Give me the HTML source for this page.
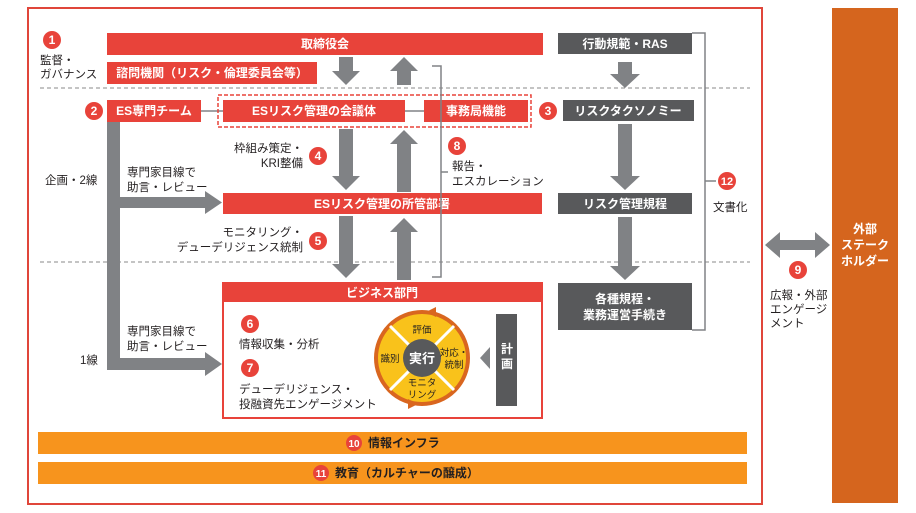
<!DOCTYPE html>
<html><head><meta charset="utf-8"><style>
html,body{margin:0;padding:0;background:#fff;}
svg{display:block;font-family:"Liberation Sans","Noto Sans CJK JP",sans-serif;}
.w{fill:#fff;font-weight:bold;font-size:12px;text-anchor:middle;}
.k{fill:#231f20;font-size:11.5px;}
.n{fill:#fff;font-weight:bold;font-size:12px;text-anchor:middle;}
.s{fill:#231f20;font-size:9.5px;text-anchor:middle;}
</style></head><body>
<svg width="916" height="513" viewBox="0 0 916 513" xmlns="http://www.w3.org/2000/svg">
<rect x="28" y="8" width="734" height="496" fill="#fff" stroke="#e0463a" stroke-width="2"/>
<rect x="832" y="8" width="66" height="495" fill="#d5651e"/>
<text x="865" y="233" class="w">外部</text>
<text x="865" y="249" class="w">ステーク</text>
<text x="865" y="265" class="w">ホルダー</text>
<line x1="40" y1="88" x2="750" y2="88" stroke="#888" stroke-dasharray="4,3" stroke-width="1"/>
<line x1="40" y1="262" x2="750" y2="262" stroke="#888" stroke-dasharray="4,3" stroke-width="1"/>
<rect x="107" y="33" width="436" height="22" fill="#e8433a"/>
<text x="325" y="48" class="w">取締役会</text>
<rect x="107" y="62" width="210" height="22" fill="#e8433a"/>
<text x="212" y="77" class="w">諮問機関（リスク・倫理委員会等）</text>
<rect x="107" y="100" width="94" height="22" fill="#e8433a"/>
<text x="154" y="115" class="w">ES専門チーム</text>
<line x1="201" y1="111" x2="223" y2="111" stroke="#808285" stroke-width="1.5"/>
<rect x="218" y="95" width="313" height="32" fill="none" stroke="#e8433a" stroke-width="1.5" stroke-dasharray="4,2"/>
<rect x="223" y="100" width="182" height="22" fill="#e8433a"/>
<text x="314" y="115" class="w">ESリスク管理の会議体</text>
<line x1="405" y1="111" x2="424" y2="111" stroke="#808285" stroke-width="1.5"/>
<rect x="424" y="100" width="104" height="22" fill="#e8433a"/>
<text x="476" y="115" class="w">事務局機能</text>
<rect x="223" y="193" width="319" height="21" fill="#e8433a"/>
<text x="382" y="208" class="w">ESリスク管理の所管部署</text>
<rect x="223" y="283" width="319" height="135" fill="#fff" stroke="#e8433a" stroke-width="2"/>
<rect x="223" y="283" width="319" height="19" fill="#e8433a"/>
<text x="382" y="297" class="w">ビジネス部門</text>
<rect x="558" y="33" width="134" height="21" fill="#58595b"/>
<text x="625" y="48" class="w">行動規範・RAS</text>
<rect x="563" y="100" width="131" height="21" fill="#58595b"/>
<text x="628" y="115" class="w">リスクタクソノミー</text>
<rect x="558" y="193" width="134" height="21" fill="#58595b"/>
<text x="625" y="208" class="w">リスク管理規程</text>
<rect x="558" y="283" width="134" height="47" fill="#58595b"/>
<text x="625" y="303" class="w">各種規程・</text>
<text x="625" y="319" class="w">業務運営手続き</text>
<g fill="#808285">
<polygon points="339,57 353,57 353,71 360,71 346,85 332,71 339,71"/>
<polygon points="397,85 411,85 411,71 418,71 404,57 390,71 397,71"/>
<polygon points="339,129 353,129 353,176 360,176 346,190 332,176 339,176"/>
<polygon points="397,192 411,192 411,144 418,144 404,130 390,144 397,144"/>
<polygon points="339,216 353,216 353,264 360,264 346,278 332,264 339,264"/>
<polygon points="397,280 411,280 411,232 418,232 404,218 390,232 397,232"/>
<polygon points="618,62 632,62 632,74 640,74 625,88 610,74 618,74"/>
<polygon points="618,124 632,124 632,176 640,176 625,190 610,176 618,176"/>
<polygon points="618,217 632,217 632,266 640,266 625,280 610,266 618,266"/>
<rect x="107" y="122" width="13" height="248"/>
<rect x="107" y="197" width="100" height="11"/>
<polygon points="205,191 222,202.5 205,214"/>
<rect x="107" y="358" width="100" height="12"/>
<polygon points="205,352 222,364 205,376"/>
<polygon points="765,245 780,232 780,240 815,240 815,232 830,245 815,258 815,250 780,250 780,258"/>
<polygon points="490,347 490,369 480,358"/>
</g>
<polyline points="432,66 441,66 441,277 432,277" fill="none" stroke="#808285" stroke-width="1.5"/>
<line x1="441" y1="172" x2="448" y2="172" stroke="#808285" stroke-width="1.5"/>
<polyline points="692,33 705,33 705,330 692,330" fill="none" stroke="#808285" stroke-width="1.5"/>
<line x1="705" y1="181" x2="716" y2="181" stroke="#808285" stroke-width="1.5"/>
<circle cx="422" cy="358" r="46" fill="#f9c21b" stroke="#d9661f" stroke-width="4"/>
<g stroke="#fff" stroke-width="3">
<line x1="390" y1="326" x2="454" y2="390"/>
<line x1="454" y1="326" x2="390" y2="390"/>
</g>
<polygon points="426,312 436,307 436,317" fill="#d9661f"/>
<polygon points="418,404 408,399 408,409" fill="#d9661f"/>
<circle cx="422" cy="358" r="19" fill="#58595b"/>
<text x="422" y="363" class="w" style="font-size:13px">実行</text>
<text x="422" y="333" class="s">評価</text>
<text x="390" y="362" class="s">識別</text>
<text x="454" y="356" class="s">対応・</text>
<text x="454" y="368" class="s">統制</text>
<text x="422" y="386" class="s">モニタ</text>
<text x="422" y="398" class="s">リング</text>
<rect x="496" y="314" width="21" height="92" fill="#58595b"/>
<text x="507" y="353" class="w">計</text>
<text x="507" y="368" class="w">画</text>
<rect x="38" y="432" width="709" height="22" fill="#f7941d"/>
<circle cx="354" cy="443" r="8" fill="#e8433a"/><text x="354" y="447" class="n" style="font-size:10px">10</text>
<text x="368" y="447" class="k" style="font-weight:bold;font-size:12px">情報インフラ</text>
<rect x="38" y="462" width="709" height="22" fill="#f7941d"/>
<circle cx="321" cy="473" r="8" fill="#e8433a"/><text x="321" y="477" class="n" style="font-size:10px">11</text>
<text x="335" y="477" class="k" style="font-weight:bold;font-size:12px">教育（カルチャーの醸成）</text>
<g fill="#e8433a">
<circle cx="52" cy="40" r="9"/><circle cx="94" cy="111" r="9"/><circle cx="548" cy="111" r="9"/>
<circle cx="318" cy="156" r="9"/><circle cx="318" cy="241" r="9"/><circle cx="457" cy="146" r="9"/>
<circle cx="250" cy="324" r="9"/><circle cx="250" cy="368" r="9"/><circle cx="727" cy="181" r="9"/>
<circle cx="798" cy="270" r="9"/>
</g>
<text x="52" y="44" class="n">1</text><text x="94" y="115" class="n">2</text><text x="548" y="115" class="n">3</text>
<text x="318" y="160" class="n">4</text><text x="318" y="245" class="n">5</text><text x="457" y="150" class="n">8</text>
<text x="250" y="328" class="n">6</text><text x="250" y="372" class="n">7</text><text x="727" y="185" class="n" style="font-size:11px">12</text>
<text x="798" y="274" class="n">9</text>
<text x="40" y="64" class="k">監督・</text>
<text x="40" y="78" class="k">ガバナンス</text>
<text x="45" y="184" class="k">企画・2線</text>
<text x="80" y="364" class="k">1線</text>
<text x="127" y="176" class="k">専門家目線で</text>
<text x="127" y="191" class="k">助言・レビュー</text>
<text x="127" y="335" class="k">専門家目線で</text>
<text x="127" y="350" class="k">助言・レビュー</text>
<text x="303" y="152" class="k" style="text-anchor:end">枠組み策定・</text>
<text x="303" y="167" class="k" style="text-anchor:end">KRI整備</text>
<text x="303" y="236" class="k" style="text-anchor:end">モニタリング・</text>
<text x="303" y="251" class="k" style="text-anchor:end">デューデリジェンス統制</text>
<text x="452" y="170" class="k">報告・</text>
<text x="452" y="185" class="k">エスカレーション</text>
<text x="239" y="348" class="k">情報収集・分析</text>
<text x="239" y="393" class="k">デューデリジェンス・</text>
<text x="239" y="408" class="k">投融資先エンゲージメント</text>
<text x="713" y="211" class="k">文書化</text>
<text x="770" y="299" class="k">広報・外部</text>
<text x="770" y="313" class="k">エンゲージ</text>
<text x="770" y="327" class="k">メント</text>
</svg>
</body></html>
